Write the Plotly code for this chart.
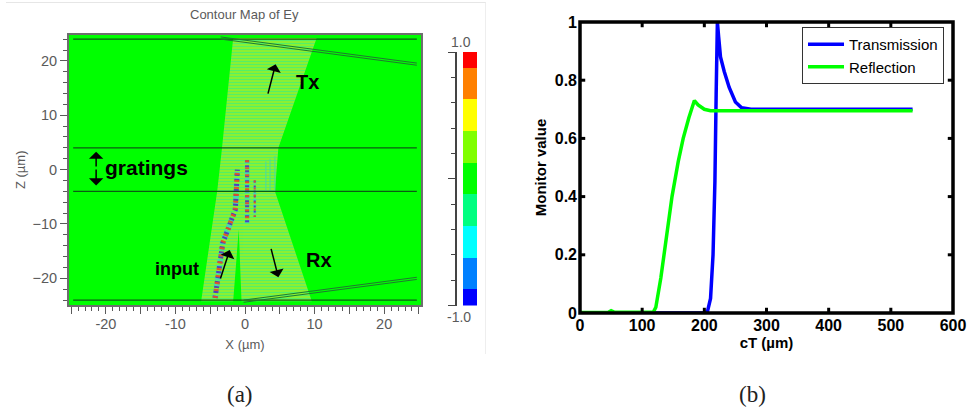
import plotly.graph_objects as go

W, H = 971, 414

# ---------- data: panel (b) ----------
trans_x = [0, 200, 205, 210, 214, 217, 219, 221, 223, 226, 232, 240, 250, 260, 275, 535]
trans_y = [0, 0, 0.005, 0.05, 0.2, 0.45, 0.75, 1.0, 0.95, 0.88, 0.83, 0.775, 0.725, 0.705, 0.70, 0.70]
refl_x = [0, 45, 50, 55, 118, 122, 130, 140, 148, 158, 166, 175, 184, 190, 200, 210, 220, 535]
refl_y = [0.002, 0.002, 0.008, 0.003, 0.003, 0.02, 0.12, 0.27, 0.40, 0.52, 0.60, 0.67, 0.73, 0.715, 0.70, 0.695, 0.695, 0.695]
b_xticks = [0, 100, 200, 300, 400, 500, 600]
b_yticks = [0, 0.2, 0.4, 0.6, 0.8, 1]
b_ylabels = ["0", "0.2", "0.4", "0.6", "0.8", "1"]

# ---------- data: panel (a) ----------
level_values = [-1, -0.75, -0.5, -0.25, 0, 0.25, 0.5, 0.75, 1]
level_colors = ["#0000ff", "#0080ff", "#00ffff", "#00ff80", "#00ff00",
                "#80ff00", "#ffff00", "#ff8000", "#ff0000"]
beam_x = [-6.3, -4, -3.3, -1.7, 10.3, 4.8, 4.3, 9.6, -0.5, -0.9, -1.7, -6.3]
beam_z = [-24.2, -4, 4, 24.2, 24.2, 4, -4, -24.2, -24.2, -11, -24.2, -24.2]
input_x = [-4.3, -3.2, -1.4, -1.1]
input_z = [-23.6, -13.5, -7.4, 0]
streak2_x = [0.3, 0.3]
streak2_z = [1.7, -9.8]
streak3_x = [1.4, 1.4]
streak3_z = [-2, -8.7]
faint_x = [3.0, 3.6, 4.3]
faint_z_top = [1.5, 2, 2.5]
faint_z_bot = [-4, -4, -4]
layer_z = [24, 4, -4, -24]
wg_top_x = [-3.5, 24.7]
wg_top_z = [24.4, 19.6]
wg_top2_z = [24.0, 19.2]
wg_bot_x = [-0.2, 24.7]
wg_bot_z = [-24.0, -19.8]
wg_bot2_z = [-24.4, -20.2]

GRAY = "#5a5a5a"
SANS = "Liberation Sans"
step = []
for i, c in enumerate(level_colors):
    step += [[i / len(level_colors), c], [(i + 1) / len(level_colors), c]]
zmin, zmax = -1.125, 1.125

def dx(a, b):
    return [a / W, b / W]
def dy(top, bottom):
    return [1 - bottom / H, 1 - top / H]

fig = go.Figure()

# field background
fig.add_trace(go.Heatmap(x=[-25.4, 25.4], y=[-25, 25], z=[[0, 0], [0, 0]], colorscale=step, zmin=zmin, zmax=zmax,
                         showscale=False, hoverinfo="skip", xaxis="x", yaxis="y"))
# beam region, striped
fig.add_trace(go.Scatter(x=beam_x, y=beam_z, mode="lines", line=dict(width=0), fill="toself", showlegend=False,
                         fillcolor="#40ec90",
                         fillpattern=dict(shape="-", bgcolor="#30f088", fgcolor="#c0f000", fgopacity=1, size=3,
                                          solidity=0.5),
                         hoverinfo="skip", xaxis="x", yaxis="y"))
# strong field streaks
for xs, zs, w in [(input_x, input_z, 6), (streak2_x, streak2_z, 5), (streak3_x, streak3_z, 3)]:
    fig.add_trace(go.Scatter(x=xs, y=zs, mode="lines", line=dict(color="#30d0e0", width=w, dash="3px,3px"),
                             showlegend=False, opacity=0.7, xaxis="x", yaxis="y"))
    fig.add_trace(go.Scatter(x=xs, y=zs, mode="lines", line=dict(color="#5030c0", width=w - 1, dash="2px,3px"),
                             showlegend=False, opacity=0.9, xaxis="x", yaxis="y"))
    fig.add_trace(go.Scatter(x=xs, y=zs, mode="lines", line=dict(color="#e85020", width=w - 1, dash="2px,5px"),
                             showlegend=False, opacity=0.95, xaxis="x", yaxis="y"))
for fx, t, b in zip(faint_x, faint_z_top, faint_z_bot):
    fig.add_trace(go.Scatter(x=[fx, fx], y=[b, t], mode="lines", line=dict(color="#4fd8a0", width=1),
                             showlegend=False, xaxis="x", yaxis="y"))
# structure lines
for z in layer_z:
    fig.add_trace(go.Scatter(x=[-24.7, 24.7], y=[z, z], mode="lines", line=dict(color="#0c5a14", width=1.4),
                             showlegend=False, xaxis="x", yaxis="y"))
for xs, zs in [(wg_top_x, wg_top_z), (wg_top_x, wg_top2_z), (wg_bot_x, wg_bot_z), (wg_bot_x, wg_bot2_z)]:
    fig.add_trace(go.Scatter(x=xs, y=zs, mode="lines", line=dict(color="#1f7a30", width=1),
                             showlegend=False, xaxis="x", yaxis="y"))

# colour bar
fig.add_trace(go.Heatmap(x=[0.5], y=level_values, z=[[v] for v in level_values], colorscale=step, zmin=zmin, zmax=zmax,
                         showscale=False, hoverinfo="skip", xaxis="x3", yaxis="y3"))

# panel (b)
fig.add_trace(go.Scatter(x=trans_x, y=trans_y, name="Transmission", mode="lines",
                         line=dict(color="#0000ff", width=3.5), xaxis="x2", yaxis="y2"))
fig.add_trace(go.Scatter(x=refl_x, y=refl_y, name="Reflection", mode="lines",
                         line=dict(color="#00ff00", width=3.5), xaxis="x2", yaxis="y2"))

ann = []
def txt(x, y, s, size, color="black", ref="x", yref="y", font=SANS, angle=0):
    ann.append(dict(x=x, y=y, xref=ref, yref=yref, text=s, showarrow=False, xanchor="center", yanchor="middle",
                    textangle=angle, font=dict(size=size, color=color, family=font)))
def arrow(x0, z0, x1, z1):
    ann.append(dict(x=x1, y=z1, ax=x0, ay=z0, xref="x", yref="y", axref="x", ayref="y", text="", showarrow=True,
                    arrowhead=1, arrowsize=1.6, arrowwidth=1.5, arrowcolor="black"))

txt(9.0, 16.1, "<b>Tx</b>", 20)
txt(10.6, -16.6, "<b>Rx</b>", 20)
txt(-9.8, -18.3, "<b>input</b>", 18)
txt(-14.2, 0.3, "<b>gratings</b>", 21)
arrow(3.25, 13.7, 4.4, 19.4)
arrow(-3.6, -20.3, -2.2, -14.8)
arrow(3.7, -14.3, 4.8, -19.8)
arrow(-21.4, 0.3, -21.4, 3.3)
arrow(-21.4, 0.3, -21.4, -2.9)
txt(245 / W, 1 - 14.5 / H, "Contour Map of Ey", 13, GRAY, ref="paper", yref="paper")
txt(461 / W, 1 - 42 / H, "1.0", 14, GRAY, ref="paper", yref="paper")
txt(459 / W, 1 - 317 / H, "-1.0", 14, GRAY, ref="paper", yref="paper")
txt(240 / W, 1 - 394 / H, "(a)", 23, "#222222", ref="paper", yref="paper", font="Liberation Serif")
txt(752 / W, 1 - 394 / H, "(b)", 23, "#222222", ref="paper", yref="paper", font="Liberation Serif")

shapes = [
    dict(type="line", xref="paper", yref="paper", x0=6 / W, x1=486 / W, y0=1 - 2.5 / H, y1=1 - 2.5 / H,
         line=dict(color="#e6e6e6", width=1)),
    dict(type="line", xref="paper", yref="paper", x0=485.5 / W, x1=485.5 / W, y0=1 - 2.5 / H, y1=1 - 354 / H,
         line=dict(color="#eeeeee", width=1)),
    dict(type="rect", xref="x2 domain", yref="y2 domain", x0=0, x1=1, y0=0, y1=1, layer="above",
         line=dict(color="black", width=3.5)),
]
# frame tick marks of panel (b), both sides, positioned by the axis scales
for v in b_xticks[1:-1]:
    for a, b in [(0, 0.018), (1, 0.982)]:
        shapes.append(dict(type="line", xref="x2", yref="y2 domain", x0=v, x1=v, y0=a, y1=b, layer="above",
                           line=dict(color="black", width=3)))
for v in b_yticks[1:-1]:
    for a, b in [(0, 0.014), (1, 0.986)]:
        shapes.append(dict(type="line", xref="x2 domain", yref="y2", x0=a, x1=b, y0=v, y1=v, layer="above",
                           line=dict(color="black", width=3)))

tick_a = dict(size=14.5, color=GRAY, family=SANS)
xv = list(range(-25, 30, 5))
fig.update_layout(
    width=W, height=H, margin=dict(l=0, r=0, t=0, b=0, autoexpand=False), paper_bgcolor="white", plot_bgcolor="white",
    annotations=ann, shapes=shapes,
    xaxis=dict(domain=dx(69, 421), range=[-25.3, 25.3], tickvals=xv,
               ticktext=[str(v) if v % 10 == 0 else "" for v in xv], ticks="outside", ticklen=7, tickcolor=GRAY,
               minor=dict(dtick=1, tick0=0, ticklen=4, ticks="outside", tickcolor=GRAY), ticklabelstandoff=-2,
               showline=True, linecolor="#6e6e6e", linewidth=2, mirror=True, showgrid=False, zeroline=False,
               tickfont=tick_a, title=dict(text="X (µm)", font=dict(size=13, color=GRAY, family=SANS), standoff=8)),
    yaxis=dict(domain=dy(34.5, 305), range=[-24.9, 24.85], anchor="x", tickvals=[-20, -10, 0, 10, 20], ticks="outside",
               ticklen=7, tickcolor=GRAY, minor=dict(dtick=2, tick0=0, ticklen=4, ticks="outside", tickcolor=GRAY),
               showline=True, linecolor="#6e6e6e", linewidth=2, mirror=True, showgrid=False, zeroline=False,
               tickfont=tick_a, title=dict(text="Z (µm)", font=dict(size=13, color=GRAY, family=SANS), standoff=4)),
    xaxis2=dict(domain=dx(580, 953), range=[0, 600], anchor="y2", tickvals=b_xticks,
                ticks="", showline=False, showgrid=False, zeroline=False, ticklabelstandoff=1,
                tickfont=dict(size=16, color="black", family=SANS, weight="bold"),
                title=dict(text="<b>cT (µm)</b>", font=dict(size=15, color="black", family=SANS), standoff=3)),
    yaxis2=dict(domain=dy(22, 313), range=[0, 1], anchor="x2", tickvals=b_yticks, ticktext=b_ylabels,
                ticks="", showline=False, showgrid=False, zeroline=False, ticklabelstandoff=2,
                tickfont=dict(size=16, color="black", family=SANS, weight="bold"),
                title=dict(text="<b>Monitor value</b>", font=dict(size=15, color="black", family=SANS), standoff=4)),
    xaxis3=dict(domain=dx(457, 477), range=[-0.43, 1], anchor="y3", visible=False),
    yaxis3=dict(domain=dy(52, 305.5), range=[-1, 1], anchor="x3", side="left", tickvals=[-1, 0, 1], ticktext=["", "", ""],
                ticks="outside", ticklen=7, tickcolor="#444444", showline=True, linecolor="#444444", linewidth=1.5,
                minor=dict(dtick=0.2, tick0=0, ticks="outside", ticklen=4, tickcolor="#444444"),
                showgrid=False, zeroline=False),
    legend=dict(x=802 / W, y=1 - 27 / H, xref="paper", yref="paper", xanchor="left", yanchor="top", bgcolor="white",
                bordercolor="#333333", borderwidth=1, font=dict(size=15, color="black", family=SANS),
                itemwidth=36, tracegroupgap=0),
)
fig.write_html("out.html", post_script="document.body.style.margin='0';", config={"displayModeBar": False})
